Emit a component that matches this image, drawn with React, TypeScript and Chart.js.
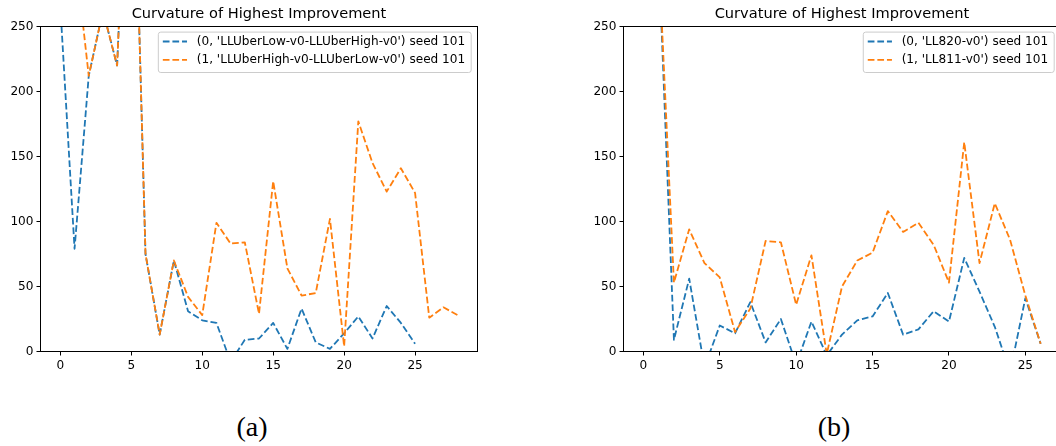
import React, { useEffect, useRef } from 'react';
import { Chart, registerables } from 'chart.js';

Chart.register(...registerables);

const titleText = 'Curvature of Highest Improvement';

// Panel (a)
const stepsA = [0, 1, 2, 3, 4, 5, 6, 7, 8, 9, 10, 11, 12, 13, 14, 15, 16, 17, 18, 19, 20, 21, 22, 23, 24, 25, 26, 27, 28];
const labelA0 = "(0, 'LLUberLow-v0-LLUberHigh-v0') seed 101";
const labelA1 = "(1, 'LLUberHigh-v0-LLUberLow-v0') seed 101";
const blueA = [265, 79, 212, 262, 220, 470, 75, 13, 70, 31, 24, 22, -8, 9, 10, 22, 2, 33, 7, 2, 14, 27, 10, 35, 22, 6];
const orangeA = [330, 310, 212, 262, 220, 470, 75, 13, 70, 42, 28, 99, 83, 84, 29, 131, 64, 43, 45, 102, 4, 177, 145, 123, 141, 122, 26, 34, 28];

// Panel (b)
const stepsB = [0, 1, 2, 3, 4, 5, 6, 7, 8, 9, 10, 11, 12, 13, 14, 15, 16, 17, 18, 19, 20, 21, 22, 23, 24, 25, 26];
const labelB0 = "(0, 'LL820-v0') seed 101";
const labelB1 = "(1, 'LL811-v0') seed 101";
const blueB = [320, 305, 9, 56, -12, 20, 14, 38, 7, 25, -10, 23, -3, 13, 24, 27, 45, 13, 17, 31, 23, 72, 46, 19, -16, 41, 6];
const orangeB = [320, 305, 53, 94, 68, 57, 15, 33, 85, 84, 36, 74, -2, 50, 70, 76, 108, 92, 99, 82, 53, 161, 68, 114, 86, 43, 6];

const xTicks = [0, 5, 10, 15, 20, 25];
const yTicks = [0, 50, 100, 150, 200, 250];

const BLUE = '#1f77b4';
const ORANGE = '#ff7f0e';
const FONT = '"DejaVu Sans", sans-serif';
const TICK_FS = 12.1;
const TITLE_FS = 14.6;
const LEGEND_FS = 12.1;
const DASH = [6.7, 2.9];
const LW = 1.8;

const framePlugin = {
  id: 'mplFrame',
  afterDatasetsDraw(chart: any) {
    const { ctx, chartArea } = chart;
    ctx.save();
    ctx.strokeStyle = '#000';
    ctx.lineWidth = 1;
    ctx.setLineDash([]);
    ctx.strokeRect(chartArea.left, chartArea.top, chartArea.right - chartArea.left, chartArea.bottom - chartArea.top);
    ctx.restore();
  },
};

function roundRectPath(ctx: any, x: number, y: number, w: number, h: number, r: number) {
  ctx.beginPath();
  ctx.moveTo(x + r, y);
  ctx.lineTo(x + w - r, y);
  ctx.arcTo(x + w, y, x + w, y + r, r);
  ctx.lineTo(x + w, y + h - r);
  ctx.arcTo(x + w, y + h, x + w - r, y + h, r);
  ctx.lineTo(x + r, y + h);
  ctx.arcTo(x, y + h, x, y + h - r, r);
  ctx.lineTo(x, y + r);
  ctx.arcTo(x, y, x + r, y, r);
  ctx.closePath();
}

const legendPlugin = {
  id: 'mplLegend',
  afterDraw(chart: any) {
    const { ctx, chartArea } = chart;
    const dsets = chart.data.datasets;
    ctx.save();
    ctx.font = `${LEGEND_FS}px ${FONT}`;
    const tw = Math.max(...dsets.map((d: any) => ctx.measureText(d.label).width));
    const boxR = chartArea.right - 6.3;
    const boxT = chartArea.top + 5.6;
    const textX = boxR - 6 - tw;
    const hEnd = textX - 9.7;
    const hStart = hEnd - 24.2;
    const boxL = hStart - 4.5;
    const boxH = 40.4;
    roundRectPath(ctx, boxL, boxT, boxR - boxL, boxH, 2.5);
    ctx.fillStyle = 'rgba(255,255,255,0.8)';
    ctx.fill();
    ctx.strokeStyle = '#cccccc';
    ctx.lineWidth = 1;
    ctx.stroke();
    dsets.forEach((d: any, i: number) => {
      const cy = boxT + 9.4 + i * 18.3;
      ctx.beginPath();
      ctx.setLineDash(d.borderDash);
      ctx.strokeStyle = d.borderColor;
      ctx.lineWidth = d.borderWidth;
      ctx.moveTo(hStart, cy);
      ctx.lineTo(hEnd, cy);
      ctx.stroke();
      ctx.setLineDash([]);
      ctx.fillStyle = '#000';
      ctx.textBaseline = 'middle';
      ctx.textAlign = 'left';
      ctx.fillText(d.label, textX, cy);
    });
    ctx.restore();
  },
};

type Series = { label: string; x: number[]; y: number[]; color: string; order: number };

type PanelProps = {
  left: number;
  width: number;
  height: number;
  areaLeft: number;
  areaRight: number;
  areaTop: number;
  areaBottom: number;
  xMin: number;
  xMax: number;
  series: Series[];
};

function Panel(p: PanelProps) {
  const ref = useRef<HTMLCanvasElement>(null);
  useEffect(() => {
    const tickFont = { family: FONT, size: TICK_FS };
    const chart = new Chart(ref.current as HTMLCanvasElement, {
      type: 'line',
      data: {
        datasets: p.series.map((s) => ({
          label: s.label,
          data: s.x.slice(0, s.y.length).map((x, i) => ({ x, y: s.y[i] })),
          borderColor: s.color,
          backgroundColor: s.color,
          borderWidth: LW,
          borderDash: DASH,
          borderJoinStyle: 'round',
          borderCapStyle: 'butt',
          pointRadius: 0,
          pointHoverRadius: 0,
          fill: false,
          tension: 0,
          order: s.order,
        })),
      },
      options: {
        responsive: false,
        maintainAspectRatio: false,
        animation: false,
        devicePixelRatio: 1,
        events: [],
        layout: { padding: { left: 0, top: 0, bottom: 0, right: p.width - p.areaRight } },
        plugins: {
          legend: { display: false },
          tooltip: { enabled: false },
          title: {
            display: true,
            text: titleText,
            fullSize: false,
            color: '#000',
            font: { family: FONT, size: TITLE_FS, weight: 'normal', lineHeight: 1.2 },
            padding: { top: 5, bottom: p.areaTop - 5 - TITLE_FS * 1.2 },
          },
        },
        scales: {
          x: {
            type: 'linear',
            min: p.xMin,
            max: p.xMax,
            afterFit: (s: any) => {
              s.height = p.height - p.areaBottom;
            },
            afterBuildTicks: (s: any) => {
              s.ticks = xTicks.map((v) => ({ value: v }));
            },
            grid: { display: true, drawOnChartArea: false, drawTicks: true, tickLength: 4, color: '#000', lineWidth: 1 },
            border: { display: false },
            ticks: { font: tickFont, color: '#000', padding: 3, autoSkip: false, maxRotation: 0, minRotation: 0 },
          },
          y: {
            type: 'linear',
            min: 0,
            max: 250,
            afterFit: (s: any) => {
              s.width = p.areaLeft;
            },
            afterBuildTicks: (s: any) => {
              s.ticks = yTicks.map((v) => ({ value: v }));
            },
            grid: { display: true, drawOnChartArea: false, drawTicks: true, tickLength: 4, color: '#000', lineWidth: 1 },
            border: { display: false },
            ticks: { font: tickFont, color: '#000', padding: 3, autoSkip: false },
          },
        },
      } as any,
      plugins: [framePlugin, legendPlugin],
    });
    return () => chart.destroy();
  }, []);
  return (
    <canvas
      ref={ref}
      width={p.width}
      height={p.height}
      style={{ position: 'absolute', left: p.left, top: 0, width: p.width, height: p.height }}
    />
  );
}

const captionStyle = (center: number): React.CSSProperties => ({
  position: 'absolute',
  left: center - 50,
  width: 100,
  top: 412.6,
  textAlign: 'center',
  fontFamily: '"Liberation Serif", serif',
  fontSize: 28,
  lineHeight: '28px',
  color: '#000',
});

export default function App() {
  const seriesA: Series[] = [
    { label: labelA0, x: stepsA, y: blueA, color: BLUE, order: 1 },
    { label: labelA1, x: stepsA, y: orangeA, color: ORANGE, order: 0 },
  ];
  const seriesB: Series[] = [
    { label: labelB0, x: stepsB, y: blueB, color: BLUE, order: 1 },
    { label: labelB1, x: stepsB, y: orangeB, color: ORANGE, order: 0 },
  ];
  return (
    <div
      style={{
        position: 'fixed',
        left: 0,
        top: 0,
        width: 1056,
        height: 446,
        overflow: 'hidden',
        background: '#fff',
      }}
    >
      <Panel
        left={0}
        width={490}
        height={380}
        areaLeft={40.5}
        areaRight={477.5}
        areaTop={26.5}
        areaBottom={351.5}
        xMin={-1.4}
        xMax={29.4}
        series={seriesA}
      />
      <Panel
        left={560}
        width={510}
        height={380}
        areaLeft={63.5}
        areaRight={500.5}
        areaTop={26.5}
        areaBottom={351.5}
        xMin={-1.3}
        xMax={27.3}
        series={seriesB}
      />
      <div style={captionStyle(252)}>(a)</div>
      <div style={captionStyle(834)}>(b)</div>
    </div>
  );
}
